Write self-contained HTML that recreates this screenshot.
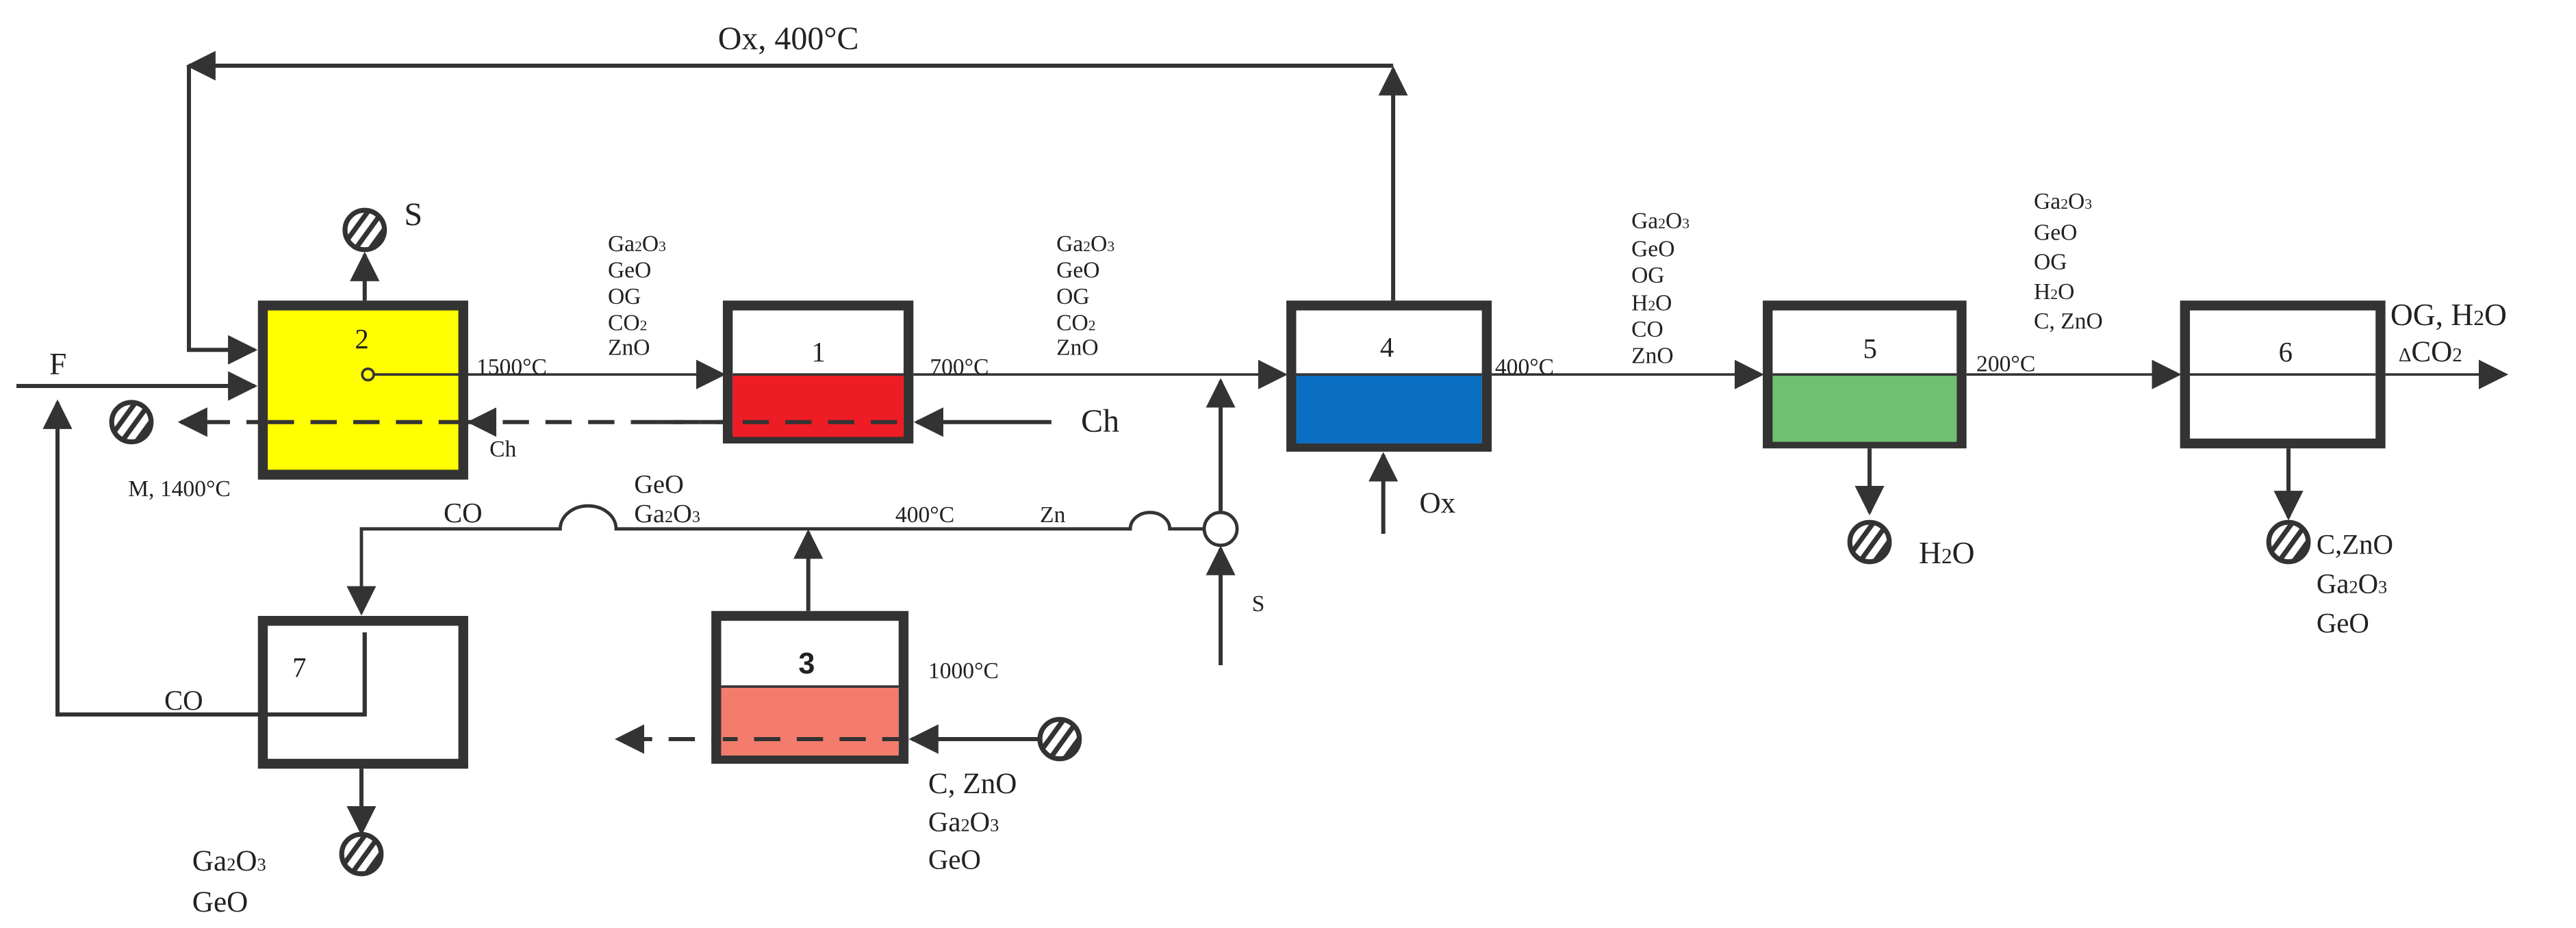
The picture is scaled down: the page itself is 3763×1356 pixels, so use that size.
<!DOCTYPE html>
<html><head><meta charset="utf-8"><style>
html,body{margin:0;padding:0;background:#fff}
svg{display:block}
</style></head><body>
<svg width="3763" height="1356" viewBox="0 0 1568 565" xmlns="http://www.w3.org/2000/svg" font-family="'Liberation Serif', serif">
<defs>
<marker id="A" viewBox="0 0 10 10" refX="9" refY="5" markerWidth="18" markerHeight="18" markerUnits="userSpaceOnUse" orient="auto"><path d="M0,0L10,5L0,10z" fill="#333"/></marker>
<clipPath id="cc"><circle cx="0" cy="0" r="11"/></clipPath>
<g id="h"><circle cx="0" cy="0" r="12" fill="#fff" stroke="#333" stroke-width="3"/><g clip-path="url(#cc)" stroke="#333" stroke-width="3"><line x1="-12" y1="8" x2="4" y2="-14"/><line x1="-6" y1="12" x2="10" y2="-10"/><line x1="0" y1="16" x2="16" y2="-6"/></g></g>
</defs>
<g fill="none" stroke="#333" stroke-width="2.5">
<path d="M848 183V42" marker-end="url(#A)"/>
<path d="M848 40H115" marker-end="url(#A)"/>
<path d="M115 40V213H155" marker-end="url(#A)"/>
<path d="M10 235H155" marker-end="url(#A)"/>
<path d="M222 183V155" marker-end="url(#A)"/>
<path d="M556 228H782" stroke-width="1.5" marker-end="url(#A)"/>
<path d="M908 228H1072" stroke-width="1.5" marker-end="url(#A)"/>
<path d="M1197 228H1326" stroke-width="1.5" marker-end="url(#A)"/>
<path d="M1452 228H1525" stroke-width="1.5" marker-end="url(#A)"/>
<path d="M556 257H110" stroke-dasharray="16,10" marker-end="url(#A)"/>
<path d="M640 257H558" marker-end="url(#A)"/>
<path d="M842 325V277" marker-end="url(#A)"/>
<path d="M1138 273V312" marker-end="url(#A)"/>
<path d="M1393 273V315" marker-end="url(#A)"/>
<path d="M220 468V507" marker-end="url(#A)"/>
<path d="M733 322H712 a12 10 0 0 0 -24 0 H375 a17 14 0 0 0 -34 0 H220 V373" stroke-width="2" marker-end="url(#A)"/>
<path d="M743 405V334" marker-end="url(#A)"/>
<path d="M743 312V232" marker-end="url(#A)"/>
<path d="M492 372V324" marker-end="url(#A)"/>
<path d="M222 385V435H35V245" marker-end="url(#A)"/>
<path d="M553 450H376" stroke-dasharray="16,10" marker-end="url(#A)"/>
<path d="M633 450H555" marker-end="url(#A)"/>
</g>
<circle cx="743" cy="322" r="10" fill="#fff" stroke="#333" stroke-width="2"/>
<g stroke="#333" stroke-width="6">
<rect x="160" y="186" width="122" height="103" fill="#ffff00"/>
<rect x="443" y="186" width="110" height="81" fill="#fff"/>
<rect x="446" y="228" width="104" height="38" fill="#ee1c25" stroke="none"/>
<rect x="786" y="186" width="119" height="86" fill="#fff"/>
<rect x="789" y="228" width="113" height="42" fill="#0a6fc2" stroke="none"/>
<rect x="1076" y="186" width="118" height="84" fill="#fff"/>
<rect x="1079" y="228" width="112" height="41" fill="#6fc06f" stroke="none"/>
<rect x="1330" y="186" width="119" height="84" fill="#fff"/>
<rect x="436" y="375" width="114" height="87" fill="#fff"/>
<rect x="439" y="418" width="108" height="42" fill="#f47c6c" stroke="none"/>
<rect x="160" y="378" width="122" height="87" fill="none"/>
</g>
<g stroke="#333" stroke-width="1.5">
<line x1="446" y1="228" x2="550" y2="228"/><line x1="789" y1="228" x2="902" y2="228"/>
<line x1="1079" y1="228" x2="1191" y2="228"/><line x1="1333" y1="228" x2="1446" y2="228"/>
<line x1="439" y1="418" x2="547" y2="418"/>
</g>
<path d="M227 228H440" stroke="#333" stroke-width="1.5" fill="none" marker-end="url(#A)"/>
<line x1="163" y1="257" x2="282" y2="257" stroke="#333" stroke-width="2.5" stroke-dasharray="16,10"/>
<path d="M300 257H286" stroke="#333" stroke-width="2.5" marker-end="url(#A)"/>
<line x1="400" y1="257" x2="556" y2="257" stroke="#333" stroke-width="2.5" stroke-dasharray="16,10"/>
<line x1="553" y1="450" x2="440" y2="450" stroke="#333" stroke-width="2.5" stroke-dasharray="16,10"/>
<line x1="222" y1="385" x2="222" y2="435" stroke="#333" stroke-width="2.5"/>
<circle cx="224" cy="228" r="3.5" fill="#ff0" stroke="#333" stroke-width="1.5"/>
<use href="#h" x="222" y="140"/><use href="#h" x="80" y="257"/><use href="#h" x="1138" y="330"/>
<use href="#h" x="1393" y="330"/><use href="#h" x="220" y="520"/><use href="#h" x="645" y="450"/>
<g font-size="15" fill="#222">
<text x="216" y="212" font-size="17">2</text>
<text x="494" y="220" font-size="17">1</text>
<text x="840" y="217" font-size="17">4</text>
<text x="1134" y="218" font-size="17">5</text>
<text x="1387" y="220" font-size="17">6</text>
<text x="486" y="410" font-size="18" font-weight="bold" font-family="'Liberation Sans', sans-serif">3</text>
<text x="178" y="412" font-size="17">7</text>
<text x="437" y="30" font-size="20">Ox, 400°C</text>
<text x="246" y="137" font-size="20">S</text>
<text x="30" y="228" font-size="19">F</text>
<text x="290" y="228" font-size="14">1500°C</text>
<text x="566" y="228" font-size="14">700°C</text>
<text x="910" y="228" font-size="14">400°C</text>
<text x="1203" y="226" font-size="14">200°C</text>
<text x="565" y="413" font-size="14">1000°C</text>
<text x="545" y="318" font-size="14">400°C</text>
<text x="633" y="318" font-size="14">Zn</text>
<text x="298" y="278" font-size="14">Ch</text>
<text x="658" y="263" font-size="20">Ch</text>
<text x="78" y="302" font-size="14">M, 1400°C</text>
<text x="270" y="318" font-size="17">CO</text>
<text x="386" y="300" font-size="16">GeO</text>
<text x="386" y="318" font-size="16">Ga<tspan font-size="10">2</tspan>O<tspan font-size="10">3</tspan></text>
<text x="100" y="432" font-size="17">CO</text>
<text x="762" y="372" font-size="14">S</text>
<text x="864" y="312" font-size="18">Ox</text>
<text x="1168" y="343" font-size="19">H<tspan font-size="13">2</tspan>O</text>
<text x="1410" y="337" font-size="17">C,ZnO</text>
<text x="1410" y="361" font-size="17">Ga<tspan font-size="11">2</tspan>O<tspan font-size="11">3</tspan></text>
<text x="1410" y="385" font-size="17">GeO</text>
<text x="1455" y="198" font-size="19">OG, H<tspan font-size="13">2</tspan>O</text>
<text x="1460" y="220" font-size="18"><tspan font-size="12">Δ</tspan>CO<tspan font-size="12">2</tspan></text>
<text x="565" y="483" font-size="18">C, ZnO</text>
<text x="565" y="506" font-size="17">Ga<tspan font-size="11">2</tspan>O<tspan font-size="11">3</tspan></text>
<text x="565" y="529" font-size="17">GeO</text>
<text x="117" y="530" font-size="18">Ga<tspan font-size="11">2</tspan>O<tspan font-size="11">3</tspan></text>
<text x="117" y="555" font-size="18">GeO</text>
</g>
<g font-size="14" fill="#222">
<text x="370" y="153">Ga<tspan font-size="9">2</tspan>O<tspan font-size="9">3</tspan></text>
<text x="370" y="169">GeO</text><text x="370" y="185">OG</text>
<text x="370" y="201">CO<tspan font-size="9">2</tspan></text><text x="370" y="216">ZnO</text>
<text x="643" y="153">Ga<tspan font-size="9">2</tspan>O<tspan font-size="9">3</tspan></text>
<text x="643" y="169">GeO</text><text x="643" y="185">OG</text>
<text x="643" y="201">CO<tspan font-size="9">2</tspan></text><text x="643" y="216">ZnO</text>
<text x="993" y="139">Ga<tspan font-size="9">2</tspan>O<tspan font-size="9">3</tspan></text>
<text x="993" y="156">GeO</text><text x="993" y="172">OG</text>
<text x="993" y="189">H<tspan font-size="9">2</tspan>O</text><text x="993" y="205">CO</text><text x="993" y="221">ZnO</text>
<text x="1238" y="127">Ga<tspan font-size="9">2</tspan>O<tspan font-size="9">3</tspan></text>
<text x="1238" y="146">GeO</text><text x="1238" y="164">OG</text>
<text x="1238" y="182">H<tspan font-size="9">2</tspan>O</text><text x="1238" y="200">C, ZnO</text>
</g>
</svg>
</body></html>
